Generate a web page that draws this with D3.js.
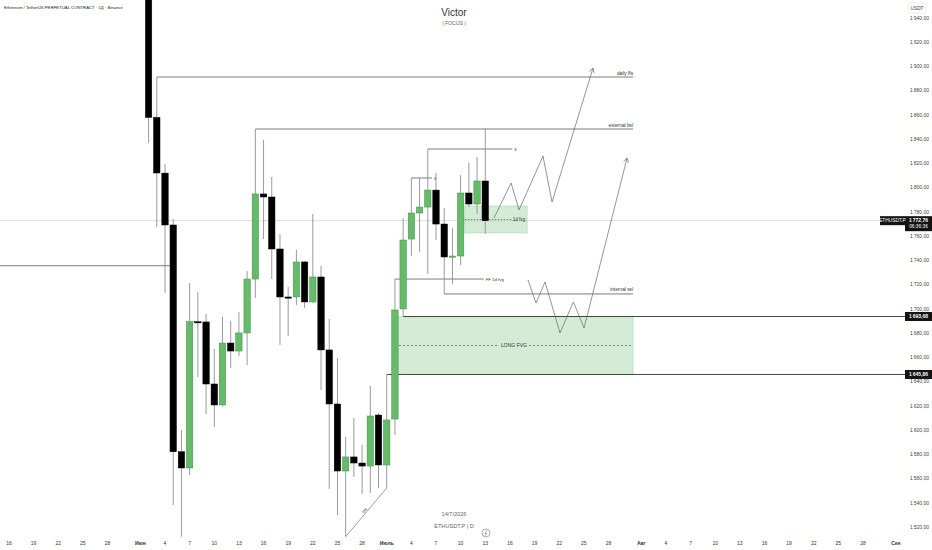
<!DOCTYPE html>
<html><head><meta charset="utf-8">
<script src="https://cdn.jsdelivr.net/npm/d3@7"></script>
<style>body{margin:0;background:#fff}svg{display:block;font-family:"Liberation Sans",Arial,sans-serif}</style>
</head><body><svg id="c" width="932" height="550"></svg>
<script>
// ---------- DATA ----------
const dates=["2026-06-02","2026-06-03","2026-06-04","2026-06-05","2026-06-06","2026-06-07","2026-06-08","2026-06-09","2026-06-10","2026-06-11","2026-06-12","2026-06-13","2026-06-14","2026-06-15","2026-06-16","2026-06-17","2026-06-18","2026-06-19","2026-06-20","2026-06-21","2026-06-22","2026-06-23","2026-06-24","2026-06-25","2026-06-26","2026-06-27","2026-06-28","2026-06-29","2026-06-30","2026-07-01","2026-07-02","2026-07-03","2026-07-04","2026-07-05","2026-07-06","2026-07-07","2026-07-08","2026-07-09","2026-07-10","2026-07-11","2026-07-12","2026-07-13"];
const open=[1965,1858,1812,1769.2,1582.1,1568.7,1689.4,1689.2,1638,1620.7,1671.8,1665.2,1680.1,1724.6,1794.8,1792.3,1749.4,1709.8,1709.8,1738.7,1705.7,1726.3,1666.1,1621.5,1566.2,1577.8,1572.8,1570.3,1612.4,1571.2,1609.1,1699.9,1757.6,1779.1,1784,1798,1770,1742.8,1743.6,1795.6,1786.5,1805.5];
const high=[1975,1891.3,1819.5,1774.1,1600,1721.3,1713.9,1695.7,1666.9,1693.3,1690,1697.4,1731.2,1848.4,1839.3,1808.8,1761.8,1718,1748.6,1739.5,1778.3,1735.4,1691.6,1659.4,1594.3,1609.9,1587.7,1636.3,1614,1645.86,1724.6,1774.9,1808,1808,1831.9,1812.1,1783.2,1766.7,1810.4,1820.6,1825.3,1848.6];
const low=[1836.9,1767.5,1713.1,1538.2,1512,1562.9,1643.8,1613.2,1602.5,1619.5,1651.2,1661.1,1653.6,1709,1757.6,1724.6,1670.2,1677.6,1703.2,1700.7,1704.9,1633,1551.4,1529.9,1512,1561.3,1547.3,1548.1,1552.2,1552.2,1595.9,1693.68,1743.6,1747,1728.8,1756.8,1712.3,1720.5,1736.2,1784,1778.3,1761.8];
const close=[1858,1812.1,1769.2,1582.1,1568.7,1689.4,1688.8,1638,1620.7,1671.8,1665.2,1680.1,1724.6,1794.8,1792.3,1749.4,1709.8,1709.4,1738.7,1705.7,1726.3,1666.1,1621.5,1566.2,1577.8,1572.8,1570.3,1611.6,1571.2,1608.3,1699.1,1756.8,1779.1,1784,1798,1770,1742.8,1743.6,1795.6,1786.5,1805.5,1772.76];

const priceTicks=d3.range(1520,1941,20);
const monthNames=["Май","Июн","Июль","Авг","Сен"];
const tickDays=[1,4,7,10,13,16,19,22,25,28];

// annotation data: dates as [month, day(fractional)]
const rayLines=[
  {label:"daily ffs",from:[6,3],to:[7,31],price:1891.3},
  {label:"external bsl",from:[6,15],to:[7,31],price:1848.4},
  {label:"internal ssl",from:[7,8],to:[7,31],price:1712.3}
];
const leftLine={from:[5,1],to:[6,5],price:1735.6};
const xLines=[{from:[7,4],to:[7,6.5],price:1808},{from:[7,6],to:[7,16.3],price:1831.9}];
const ffLine={label:"FF 1d fvg",from:[7,2],to:[7,12.8],price:1724.6};
const longFvg={label:"LONG FVG",from:[7,2],to:[7,31],top:1693.68,bottom:1645.86};
const dayFvg={label:"1d fvg",from:[7,10.5],to:[7,18.1],top:1784.9,bottom:1762.6};
const axisLevels=[{from:[7,3],price:1693.68},{from:[7,1],price:1645.86}];
const lastPrice=1772.76;
const diagonal={label:"sw",pts:[[6,26,1512],[7,1,1552.2]]};
const pathA=[[7,14.07,1775],[7,16.14,1803.9],[7,17.11,1781.6],[7,20.03,1826.1],[7,21.13,1788.2],[7,26.12,1898.7]];
const pathB=[[7,18.2,1723.8],[7,19.18,1704.8],[7,20.28,1722.2],[7,22.1,1680.1],[7,23.73,1705.7],[7,25.03,1684.2],[7,30.27,1824.5]];

// ---------- SCALES ----------
const W=932,H=550,plotR=905;
const svg=d3.select("#c");
const md=(m,d)=>new Date(Date.UTC(2026,m-1,1)+(d-1)*864e5);
const x=d3.scaleUtc().domain([new Date(Date.UTC(2026,4,14,21,46)),new Date(Date.UTC(2026,8,2,2,41))]).range([0,plotR]);
const y=d3.scaleLinear().domain([1520,1940]).range([527,18]);
const loc=d3.formatLocale({decimal:",",thousands:"\u2009",grouping:[3],currency:["",""]});
const fmt=loc.format(",.2f");
const parse=d3.utcParse("%Y-%m-%d");
const candles=dates.map((d,i)=>({t:parse(d),o:open[i],h:high[i],l:low[i],c:close[i]}));
const dayW=x(md(6,5))-x(md(6,4));
const bw=dayW*0.78;

svg.append("defs").append("clipPath").attr("id","pc").append("rect").attr("x",0).attr("y",0).attr("width",plotR).attr("height",H);
const g=svg.append("g").attr("clip-path","url(#pc)");

// last price line
g.append("line").attr("x1",0).attr("x2",plotR).attr("y1",y(lastPrice)).attr("y2",y(lastPrice)).attr("stroke","#d6d6d6").attr("stroke-width",0.8);

// boxes
function box(b){
  const x0=x(md(...b.from)),x1=x(md(...b.to));
  g.append("rect").attr("x",x0).attr("y",y(b.top)).attr("width",x1-x0).attr("height",y(b.bottom)-y(b.top))
   .attr("fill","rgba(102,187,106,0.28)").attr("stroke","rgba(102,187,106,0.45)").attr("stroke-width",0.6);
  return [x0,x1];
}
{
  const [x0,x1]=box(longFvg);
  const ym=y((longFvg.top+longFvg.bottom)/2),cx=(x0+x1)/2;
  g.append("line").attr("x1",x0).attr("x2",cx-15).attr("y1",ym).attr("y2",ym).attr("stroke","#555").attr("stroke-width",0.7).attr("stroke-dasharray","2,2");
  g.append("line").attr("x1",cx+15).attr("x2",x1).attr("y1",ym).attr("y2",ym).attr("stroke","#555").attr("stroke-width",0.7).attr("stroke-dasharray","2,2");
  g.append("text").attr("x",cx).attr("y",ym).attr("dy","0.35em").attr("text-anchor","middle").attr("font-size",5).attr("fill","#333").text(longFvg.label);
}
{
  const [x0,x1]=box(dayFvg);
  const ym=y((dayFvg.top+dayFvg.bottom)/2);
  g.append("line").attr("x1",x0).attr("x2",x1-15).attr("y1",ym).attr("y2",ym).attr("stroke","#555").attr("stroke-width",0.7).attr("stroke-dasharray","1.5,1.5");
  g.append("text").attr("x",x1-2).attr("y",ym).attr("dy","0.35em").attr("text-anchor","end").attr("font-size",4.6).attr("fill","#333").text(dayFvg.label);
}

// level lines
const lineCol="#5a5a5a";
function hline(from,to,price,col,w){
  g.append("line").attr("x1",from).attr("x2",to).attr("y1",y(price)).attr("y2",y(price)).attr("stroke",col||lineCol).attr("stroke-width",w||0.8);
}
rayLines.forEach(r=>{
  hline(x(md(...r.from)),x(md(...r.to)),r.price);
  g.append("text").attr("x",x(md(...r.to))).attr("y",y(r.price)-2.5).attr("text-anchor","end").attr("font-size",4.8).attr("fill","#333").text(r.label);
});
hline(0,x(md(...leftLine.to)),leftLine.price);
xLines.forEach(r=>{
  hline(x(md(...r.from)),x(md(...r.to)),r.price);
  g.append("text").attr("x",x(md(...r.to))+2).attr("y",y(r.price)).attr("dy","0.35em").attr("font-size",5).attr("fill","#333").text("x");
});
hline(x(md(...ffLine.from)),x(md(...ffLine.to)),ffLine.price);
g.append("text").attr("x",x(md(...ffLine.to))+2).attr("y",y(ffLine.price)).attr("dy","0.35em").attr("font-size",4.3).attr("fill","#333").text(ffLine.label);
axisLevels.forEach(l=>hline(x(md(...l.from)),plotR,l.price,"#333",0.9));

// diagonal
{
  const p=diagonal.pts.map(d=>[x(md(d[0],d[1])),y(d[2])]);
  g.append("line").attr("x1",p[0][0]).attr("y1",p[0][1]).attr("x2",p[1][0]).attr("y2",p[1][1]).attr("stroke","#777").attr("stroke-width",0.7);
  const mx=(p[0][0]+p[1][0])/2,my=(p[0][1]+p[1][1])/2;
  const ang=Math.atan2(p[1][1]-p[0][1],p[1][0]-p[0][0])*180/Math.PI;
  g.append("text").attr("transform",`translate(${mx-1},${my-1}) rotate(${ang})`).attr("text-anchor","middle").attr("font-size",4.5).attr("fill","#333").text(diagonal.label);
}

// wicks and bodies
g.selectAll(".wick").data(candles).join("line")
  .attr("x1",d=>x(d.t)).attr("x2",d=>x(d.t)).attr("y1",d=>y(d.h)).attr("y2",d=>y(d.l))
  .attr("stroke","#8e8e8e").attr("stroke-width",0.9);
g.selectAll(".body").data(candles).join("rect")
  .attr("x",d=>x(d.t)-bw/2).attr("width",bw)
  .attr("y",d=>y(Math.max(d.o,d.c)))
  .attr("height",d=>Math.max(1.2,Math.abs(y(d.o)-y(d.c))))
  .attr("fill",d=>d.c>=d.o?"#66bb6a":"#000")
  .attr("stroke",d=>d.c>=d.o?"#3f8f43":"#000").attr("stroke-width",0.5);

// projection paths with arrowheads
function proj(pts){
  const p=pts.map(d=>[x(md(d[0],d[1])),y(d[2])]);
  g.append("path").attr("d",d3.line()(p)).attr("fill","none").attr("stroke","#666").attr("stroke-width",0.7);
  const a=p[p.length-1],b=p[p.length-2];
  const ang=Math.atan2(a[1]-b[1],a[0]-b[0]);
  const L=5;
  [0.5,-0.5].forEach(s=>{
    g.append("line").attr("x1",a[0]).attr("y1",a[1])
     .attr("x2",a[0]-L*Math.cos(ang+s)).attr("y2",a[1]-L*Math.sin(ang+s))
     .attr("stroke","#666").attr("stroke-width",0.7);
  });
}
proj(pathA);proj(pathB);

// ---------- AXES ----------
const ax=svg.append("g");
priceTicks.forEach(p=>{
  ax.append("text").attr("x",910).attr("y",y(p)).attr("dy","0.35em").attr("font-size",5).attr("fill","#444").text(fmt(p));
});
ax.append("rect").attr("x",908).attr("y",3).attr("width",18).attr("height",10).attr("fill","#fff").attr("stroke","#ddd").attr("stroke-width",0.6).attr("rx",1);
ax.append("text").attr("x",917).attr("y",8).attr("dy","0.35em").attr("text-anchor","middle").attr("font-size",4.8).attr("fill","#444").text("USDT");
axisLevels.forEach(l=>{
  ax.append("rect").attr("x",905).attr("y",y(l.price)-4.5).attr("width",27).attr("height",9).attr("fill","#131313");
  ax.append("text").attr("x",918.5).attr("y",y(l.price)).attr("dy","0.35em").attr("text-anchor","middle").attr("font-size",5).attr("fill","#fff").attr("font-weight","bold").text(fmt(l.price));
});
{
  const yp=y(lastPrice);
  ax.append("rect").attr("x",905).attr("y",yp-4.5).attr("width",27).attr("height",15).attr("fill","#131313");
  ax.append("text").attr("x",918.5).attr("y",yp).attr("dy","0.35em").attr("text-anchor","middle").attr("font-size",5).attr("fill","#fff").attr("font-weight","bold").text(fmt(lastPrice));
  ax.append("text").attr("x",918.5).attr("y",yp+6).attr("dy","0.35em").attr("text-anchor","middle").attr("font-size",4.8).attr("fill","#fff").text("06:36:36");
  ax.append("rect").attr("x",880).attr("y",yp-4.5).attr("width",25).attr("height",9).attr("fill","#131313");
  ax.append("text").attr("x",892.5).attr("y",yp).attr("dy","0.35em").attr("text-anchor","middle").attr("font-size",4.8).attr("fill","#fff").text("ETHUSDT.P");
}
const tickData=[];
[5,6,7,8,9].forEach((m,mi)=>tickDays.forEach(d=>{
  const t=md(m,d),px=x(t);
  if(px>2&&px<plotR) tickData.push({px,label:d===1?monthNames[mi]:String(d),month:d===1});
}));
ax.selectAll(".tl").data(tickData).join("text")
  .attr("x",d=>d.px).attr("y",543).attr("dy","0.35em").attr("text-anchor","middle")
  .attr("font-size",5).attr("fill","#333").attr("font-weight",d=>d.month?"bold":"normal").text(d=>d.label);

// ---------- TEXTS ----------
svg.append("text").attr("x",4).attr("y",8).attr("dy","0.35em").attr("font-size",4.25).attr("fill","#222").text("Ethereum / TetherUS PERPETUAL CONTRACT · 1Д · Binance");
svg.append("text").attr("x",454).attr("y",12).attr("dy","0.35em").attr("text-anchor","middle").attr("font-size",10).attr("fill","#333").text("Victor");
svg.append("text").attr("x",454).attr("y",23).attr("dy","0.35em").attr("text-anchor","middle").attr("font-size",5.2).attr("fill","#666").text("|  FOCUS  |");
svg.append("text").attr("x",454).attr("y",514).attr("dy","0.35em").attr("text-anchor","middle").attr("font-size",5.6).attr("fill","#666").text("14/7/2026");
svg.append("text").attr("x",454).attr("y",526).attr("dy","0.35em").attr("text-anchor","middle").attr("font-size",5.6).attr("fill","#666").text("ETHUSDT.P  |  D");
svg.append("circle").attr("cx",486).attr("cy",533).attr("r",4).attr("fill","none").attr("stroke","#777").attr("stroke-width",0.6);
svg.append("path").attr("d","M487,530.5 L484.8,533.4 L486.6,533.4 L485.2,535.8").attr("fill","none").attr("stroke","#777").attr("stroke-width",0.6);
</script></body></html>
